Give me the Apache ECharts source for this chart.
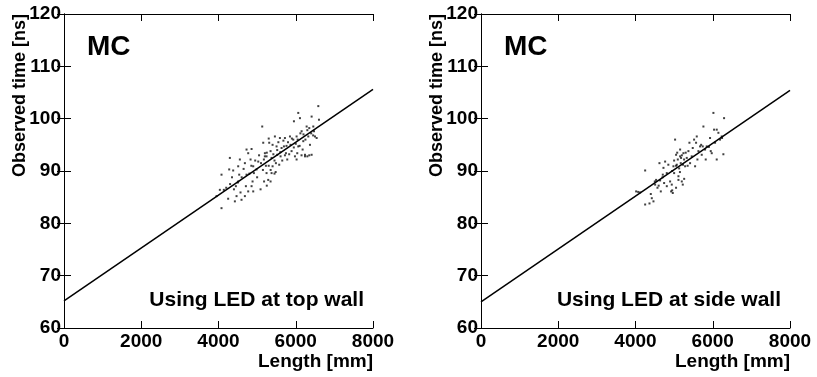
<!DOCTYPE html>
<html>
<head>
<meta charset="utf-8">
<script src="https://cdn.jsdelivr.net/npm/echarts@6/dist/echarts.min.js"></script>
<style>
  html, body { margin: 0; padding: 0; background: #fff; }
  #chart { width: 817px; height: 377px; }
</style>
</head>
<body>
<div id="chart"></div>
<script>
// MC points: [length mm, observed time ns]
const topWallPoints = [
  [3949,85.2],[4035,86.4],[4078,89.3],[4078,82.9],[4138,86.4],[4200,86.8],[4250,84.7],[4277,90.3],
  [4294,92.5],[4300,87.5],[4350,88.8],[4380,90.1],[4400,86.5],[4424,84.2],[4450,87.1],[4467,85.2],
  [4500,87.8],[4510,90.9],[4510,88.0],[4536,89.3],[4553,92.2],[4570,85.9],[4596,84.5],[4600,88.8],
  [4650,90.4],[4683,91.5],[4683,85.2],[4709,87.1],[4726,94.1],[4726,89.3],[4769,93.4],[4769,86.1],
  [4800,89.5],[4830,92.2],[4850,91.0],[4856,94.2],[4856,87.1],[4882,88.0],[4899,90.9],[4899,86.1],
  [4916,89.6],[4950,92.0],[4985,90.3],[5000,88.8],[5029,91.8],[5050,93.0],[5089,86.5],[5100,91.5],
  [5132,98.5],[5150,90.2],[5158,95.4],[5175,92.2],[5180,88.0],[5200,92.8],[5201,93.4],[5227,91.0],
  [5244,89.6],[5244,92.8],[5250,93.5],[5250,87.2],[5287,88.3],[5300,91.0],[5300,96.2],[5313,95.4],
  [5348,93.8],[5348,88.0],[5350,90.2],[5374,92.5],[5374,89.6],[5400,90.9],[5400,95.0],[5420,93.2],
  [5450,92.0],[5450,89.5],[5460,96.6],[5480,89.8],[5486,91.5],[5503,94.7],[5520,94.0],[5521,93.1],
  [5550,95.5],[5572,91.2],[5590,96.3],[5600,93.6],[5607,92.8],[5633,94.4],[5650,92.0],[5680,95.8],
  [5694,94.7],[5720,96.3],[5720,93.0],[5746,93.4],[5760,94.8],[5780,92.2],[5800,95.5],[5830,93.2],
  [5850,96.6],[5866,95.0],[5892,93.8],[5900,96.2],[5936,96.0],[5950,94.5],[5953,99.5],[5979,92.8],
  [6000,95.2],[6022,96.6],[6022,92.2],[6039,93.4],[6050,96.0],[6065,101.1],[6065,94.7],[6100,94.8],
  [6109,100.1],[6120,97.2],[6150,93.0],[6152,97.6],[6178,94.1],[6195,95.7],[6200,97.0],[6239,93.1],
  [6239,92.8],[6250,96.0],[6282,98.5],[6300,97.8],[6300,92.8],[6325,96.6],[6350,98.2],[6350,93.0],
  [6368,95.0],[6400,97.2],[6411,100.4],[6411,93.1],[6450,96.8],[6454,98.5],[6472,97.6],[6498,96.6],
  [6541,96.3],[6584,102.4],[6601,99.8]
];
const sideWallPoints = [
  [4017,86.1],[4069,86.0],[4120,85.9],[4250,90.1],[4250,83.6],[4362,83.8],[4396,85.6],[4422,84.8],
  [4465,84.2],[4500,88.0],[4508,87.4],[4534,88.3],[4569,86.8],[4600,87.2],[4620,91.5],[4637,88.2],
  [4655,86.1],[4700,88.8],[4707,89.3],[4724,90.6],[4741,87.7],[4767,91.8],[4810,89.6],[4810,87.1],
  [4850,91.2],[4896,88.0],[4922,86.1],[4939,87.4],[4950,90.0],[4950,86.3],[4965,85.8],[4982,90.9],
  [5000,89.6],[5000,92.0],[5025,96.0],[5050,91.0],[5050,86.8],[5051,93.1],[5069,91.2],[5080,93.5],
  [5095,92.2],[5112,89.0],[5112,88.3],[5130,90.5],[5150,89.8],[5155,94.1],[5155,92.8],[5172,91.5],
  [5180,92.5],[5198,88.0],[5200,93.0],[5224,87.4],[5230,91.2],[5241,93.4],[5258,92.2],[5260,88.5],
  [5284,90.9],[5300,93.5],[5327,92.5],[5350,91.0],[5370,93.8],[5396,95.4],[5413,91.5],[5456,92.8],
  [5482,94.4],[5517,96.0],[5543,90.9],[5568,95.4],[5586,96.6],[5603,92.2],[5629,93.8],[5672,94.7],
  [5700,95.0],[5715,93.1],[5741,94.7],[5758,98.5],[5801,94.1],[5818,92.2],[5844,94.7],[5900,94.6],
  [5930,96.3],[5948,93.8],[5974,93.4],[6017,101.1],[6034,97.9],[6060,95.4],[6103,97.9],[6103,92.2],
  [6146,97.3],[6189,96.0],[6232,96.6],[6241,96.3],[6275,93.2],[6293,100.1]
];
// fitted lines: [length, time] at both ends
const topWallFit = [[0, 65.2], [8000, 105.6]];
const sideWallFit = [[0, 65.0], [8000, 105.4]];

const panelNames = ['Using LED at top wall', 'Using LED at side wall'];
const font = '"Liberation Sans", Arial, Helvetica, sans-serif';

const chart = echarts.init(document.getElementById('chart'));

const grids = [
  { left: 64, top: 14, width: 309, height: 314 },
  { left: 481, top: 14, width: 309, height: 314 }
];

function xAx(gi, pos, labels) {
  return {
    type: 'value', gridIndex: gi, position: pos, min: 0, max: 8000, interval: 2000,
    axisLine: { show: true, lineStyle: { color: '#000', width: 1 } },
    axisTick: { show: true, inside: true, length: 7, lineStyle: { color: '#000' } },
    axisLabel: { show: labels, color: '#000', fontSize: 19, fontWeight: 'bold', fontFamily: font, margin: 4,
      formatter: function (v) { return String(v); } },
    splitLine: { show: false }
  };
}
function yAx(gi, pos, labels) {
  return {
    type: 'value', gridIndex: gi, position: pos, min: 60, max: 120, interval: 10,
    axisLine: { show: true, lineStyle: { color: '#000', width: 1 } },
    axisTick: { show: true, inside: true, length: 7, lineStyle: { color: '#000' } },
    axisLabel: { show: labels, color: '#000', fontSize: 19, fontWeight: 'bold', fontFamily: font, margin: 3 },
    splitLine: { show: false }
  };
}

const graphics = [];
grids.forEach(function (g, i) {
  graphics.push({
    type: 'text', x: g.left - 44, y: g.top, rotation: Math.PI / 2,
    style: { text: 'Observed time [ns]', fill: '#000', font: 'bold 18px ' + font, align: 'right', verticalAlign: 'middle' }
  });
  graphics.push({
    type: 'text', x: g.left + g.width, y: 362,
    style: { text: 'Length [mm]', fill: '#000', font: 'bold 19px ' + font, align: 'right', verticalAlign: 'middle' }
  });
  graphics.push({
    type: 'text', x: g.left + 23, y: 47,
    style: { text: 'MC', fill: '#000', font: 'bold 28px ' + font, align: 'left', verticalAlign: 'middle' }
  });
  graphics.push({
    type: 'text', x: g.left + g.width - 9, y: 300,
    style: { text: panelNames[i], fill: '#000', font: 'bold 21px ' + font, align: 'right', verticalAlign: 'middle' }
  });
});

chart.setOption({
  animation: false,
  backgroundColor: '#fff',
  grid: grids,
  xAxis: [xAx(0, 'bottom', true), xAx(0, 'top', false), xAx(1, 'bottom', true), xAx(1, 'top', false)],
  yAxis: [yAx(0, 'left', true), yAx(0, 'right', false), yAx(1, 'left', true), yAx(1, 'right', false)],
  graphic: graphics,
  series: [
    { type: 'scatter', xAxisIndex: 0, yAxisIndex: 0, data: topWallPoints, symbol: 'rect', symbolSize: 2,
      itemStyle: { color: '#111' } },
    { type: 'line', xAxisIndex: 0, yAxisIndex: 0, data: topWallFit, symbol: 'none',
      lineStyle: { color: '#000', width: 1.5 } },
    { type: 'scatter', xAxisIndex: 2, yAxisIndex: 2, data: sideWallPoints, symbol: 'rect', symbolSize: 2,
      itemStyle: { color: '#111' } },
    { type: 'line', xAxisIndex: 2, yAxisIndex: 2, data: sideWallFit, symbol: 'none',
      lineStyle: { color: '#000', width: 1.5 } }
  ]
});
</script>
</body>
</html>
